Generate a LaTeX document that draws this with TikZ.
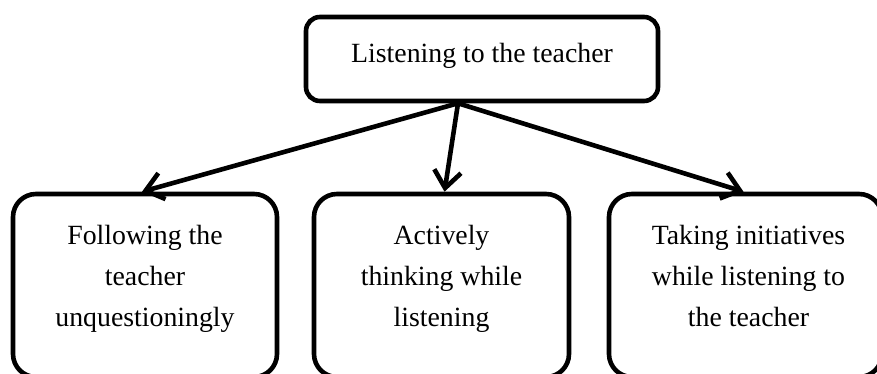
\documentclass[tikz,border=0pt]{standalone}
\usepackage{fontspec}
\setmainfont{Liberation Serif}
\usetikzlibrary{arrows.meta}
\begin{document}
\begin{tikzpicture}[x=1pt,y=1pt,
  topbox/.style={draw, line width=4.6pt, rounded corners=14pt, inner sep=0pt,
                 minimum width=352pt, minimum height=84pt},
  leafbox/.style={draw, line width=4.6pt, rounded corners=23pt, inner sep=0pt,
                  minimum height=183pt},
  label text/.style={font=\fontsize{27.8}{41}\selectfont, align=center, inner sep=0pt},
  link/.style={line width=4.6pt, -{Straight Barb[length=17pt,width=27pt]}}]
  \useasboundingbox (0,0) rectangle (877,374);
  \clip (0,0) rectangle (877,374);

  % root box
  \node[topbox] (top) at (482,315) {};
  \node[label text, anchor=base] (toptext) at ([yshift=-4pt]top.center)
    {Listening to the teacher};

  % three leaf boxes, running off the lower and right edges
  \node[leafbox, minimum width=264pt] (left) at (145,88.5) {};
  \node[leafbox, minimum width=255pt] (mid) at (441.5,88.5) {};
  \node[leafbox, minimum width=273pt] (right) at (745.5,88.5) {};

  % texts anchored at the baseline of their last line
  \node[label text, anchor=base] (lefttext) at ([yshift=-41.5pt]left.center)
    {Following the\\teacher\\unquestioningly};
  \node[label text, anchor=base] (midtext) at ([yshift=-41.5pt]mid.center)
    {Actively\\thinking while\\listening};
  \node[label text, anchor=base] (righttext) at ([xshift=3pt,yshift=-41.5pt]right.center)
    {Taking initiatives\\while listening to\\the teacher};

  % connectors from a common point under the root box
  \coordinate (src) at ([xshift=-24pt]top.south);
  \draw[link] (src) -- ([xshift=-3pt]left.north);
  \draw[link] (src) -- ([xshift=3pt]mid.north);
  \draw[link] (src) -- ([xshift=-2pt]right.north);
\end{tikzpicture}
\end{document}
